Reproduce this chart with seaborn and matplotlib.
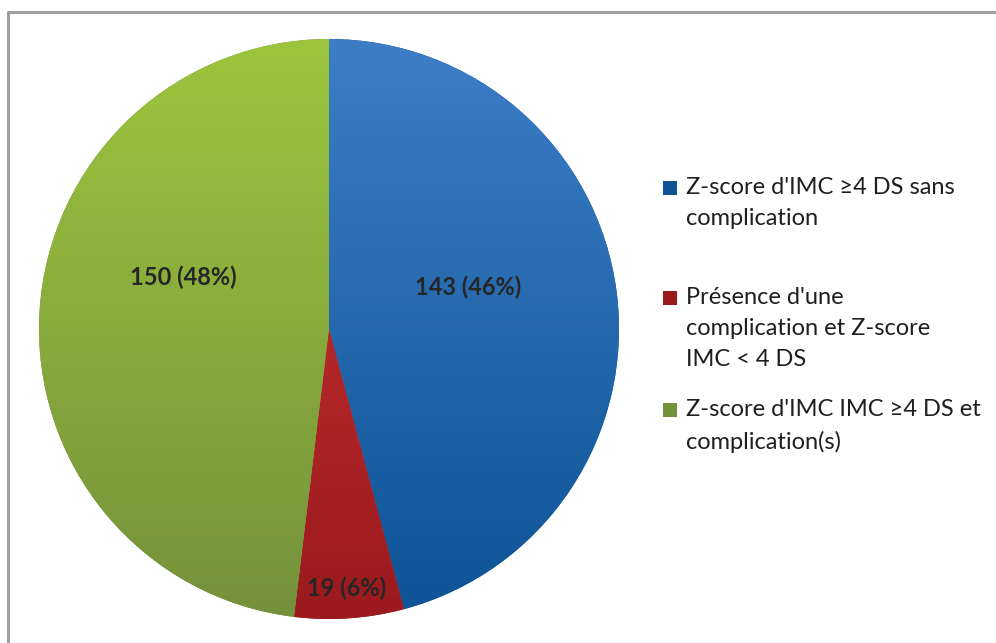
import numpy as np
import matplotlib.pyplot as plt
import matplotlib.colors as mcolors
from matplotlib.patches import Rectangle
import seaborn as sns

# data
categories = ["Z-score d'IMC \u22654 DS sans\ncomplication",
              "Pr\u00e9sence d'une\ncomplication et Z-score\nIMC < 4 DS",
              "Z-score d'IMC IMC \u22654 DS et\ncomplication(s)"]
counts = [143, 19, 150]

# gradient colours (top, bottom) per slice
top_colors = ['#3D7EC6', '#D03535', '#9DC53E']
bottom_colors = ['#0D5395', '#9A1A1E', '#74913B']

# label positions inside the pie (axes data units)
label_xy = [(0.48, 0.145), (0.062, -0.893), (-0.503, 0.179)]

sns.set_theme(style='white')
plt.rcParams['font.family'] = ['Lato', 'DejaVu Sans']

fig = plt.figure(figsize=(9.96, 6.43), dpi=100)

# outer frame (left and top sides visible)
frame = fig.add_axes([0, 0, 1, 1])
frame.set_xlim(0, 996)
frame.set_ylim(643, 0)
frame.axis('off')
frame.plot([7.5, 7.5, 996], [643, 11.5, 11.5], color='#A0A0A0', lw=2.2)

ax = fig.add_axes([39 / 996, 24 / 643, 580 / 996, 580 / 643])
wedges, _ = ax.pie(counts, startangle=90, counterclock=False, radius=1,
                   colors=bottom_colors, wedgeprops=dict(linewidth=0))
ax.set_xlim(-1, 1)
ax.set_ylim(-1, 1)
ax.axis('off')

# vertical gradient in each slice
for w, ct, cb in zip(wedges, top_colors, bottom_colors):
    c1 = np.array(mcolors.to_rgb(ct))
    c2 = np.array(mcolors.to_rgb(cb))
    t = np.linspace(0, 1, 256)[:, None]
    grad = (c1 * (1 - t) + c2 * t)[:, None, :]
    im = ax.imshow(grad, extent=(-1, 1, -1, 1), aspect='auto', zorder=2,
                   interpolation='bilinear')
    im.set_clip_path(w)

total = sum(counts)
for (x, y), n in zip(label_xy, counts):
    ax.text(x, y, f'{n} ({round(100 * n / total)}%)', ha='center', va='center',
            fontsize=17, fontweight='bold', color='#262626', zorder=3)

# legend, laid out like the original
legend_y = [188, 298, 410]
for lab, y, ct, cb in zip(categories, legend_y, top_colors, bottom_colors):
    frame.add_patch(Rectangle((663, y - 7), 14, 14, facecolor=cb,
                              edgecolor='none'))
    frame.text(686, y - 11, lab, ha='left', va='top', fontsize=17,
               color='#1F1F1F', linespacing=1.6)

fig.savefig('out.png', dpi=100)
